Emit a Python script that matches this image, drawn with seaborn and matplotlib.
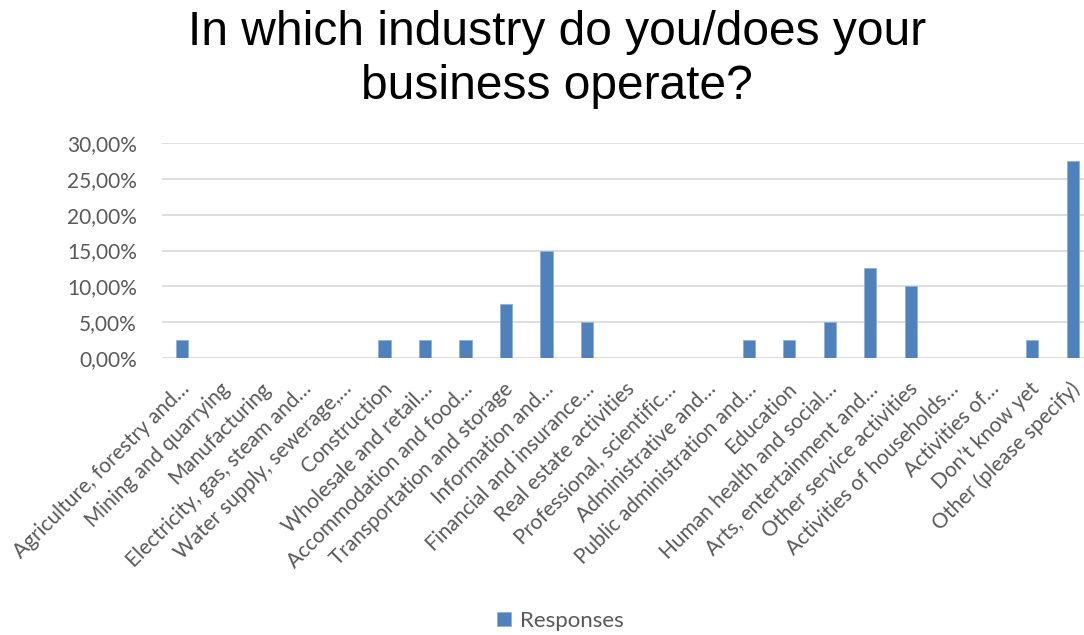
import matplotlib
matplotlib.use("Agg")
import matplotlib.pyplot as plt
import seaborn as sns
import pandas as pd
from matplotlib.ticker import FuncFormatter, MultipleLocator
from matplotlib.transforms import ScaledTranslation

categories = [
    "Agriculture, forestry and…",
    "Mining and quarrying",
    "Manufacturing",
    "Electricity, gas, steam and…",
    "Water supply, sewerage,…",
    "Construction",
    "Wholesale and retail…",
    "Accommodation and food…",
    "Transportation and storage",
    "Information and…",
    "Financial and insurance…",
    "Real estate activities",
    "Professional, scientific…",
    "Administrative and…",
    "Public administration and…",
    "Education",
    "Human health and social…",
    "Arts, entertainment and…",
    "Other service activities",
    "Activities of households…",
    "Activities of…",
    "Don’t know yet",
    "Other (please specify)",
]
responses = [0.025, 0.0, 0.0, 0.0, 0.0, 0.025, 0.025, 0.025, 0.075, 0.15,
             0.05, 0.0, 0.0, 0.0, 0.025, 0.025, 0.05, 0.125, 0.10, 0.0,
             0.0, 0.025, 0.275]
series_name = "Responses"
title = "In which industry do you/does your\nbusiness operate?"

df = pd.DataFrame({"category": categories, "value": responses})

sns.set_theme(style="white")
plt.rcParams["font.family"] = ["Lato", "DejaVu Sans"]

fig = plt.figure(figsize=(10.84, 6.35), dpi=100)
ax = fig.add_axes([0.1494, 0.4362, 0.8506, 0.3386])

bar_color = "#4f81bd"
sns.barplot(data=df, x="category", y="value", color=bar_color, width=0.3,
            edgecolor="#8fb0d8", linewidth=0.6, saturation=1, ax=ax,
            label=series_name)

text_gray = "#595959"
ax.set_ylim(0, 0.30)
ax.set_xlim(-0.5, 22.28)
ax.yaxis.set_major_locator(MultipleLocator(0.05))
ax.yaxis.set_major_formatter(
    FuncFormatter(lambda v, _: f"{v * 100:.2f}%".replace(".", ",")))
ax.grid(axis="y", color="#d9d9d9", linewidth=1.2)
ax.set_axisbelow(True)
for s in ax.spines.values():
    s.set_visible(False)
ax.set_xlabel("")
ax.set_ylabel("")
ax.tick_params(axis="y", length=0, pad=18, labelsize=15, labelcolor=text_gray)
ax.tick_params(axis="x", length=0, pad=20)
ax.set_xticks(range(len(categories)))
ax.set_xticklabels(categories, rotation=45, ha="right", va="center",
                   rotation_mode="anchor", fontsize=15, color=text_gray)
nudge = ScaledTranslation(3 / 72, 0, fig.dpi_scale_trans)
for lbl in ax.get_xticklabels():
    lbl.set_transform(lbl.get_transform() + nudge)

fig.text(0.514, 0.985, title, ha="center", va="top", fontsize=34.5,
         family="Liberation Sans", color="black", linespacing=1.28)

if ax.legend_:
    ax.legend_.remove()
handles, labels = ax.get_legend_handles_labels()
fig.legend(handles[:1], [series_name], loc="center", bbox_to_anchor=(0.517, 0.022),
           frameon=False, handlelength=0.6, handleheight=0.6, handletextpad=0.4,
           prop={"family": "Lato", "size": 16}, labelcolor=text_gray)

fig.savefig("out.png", dpi=100, facecolor="white")
